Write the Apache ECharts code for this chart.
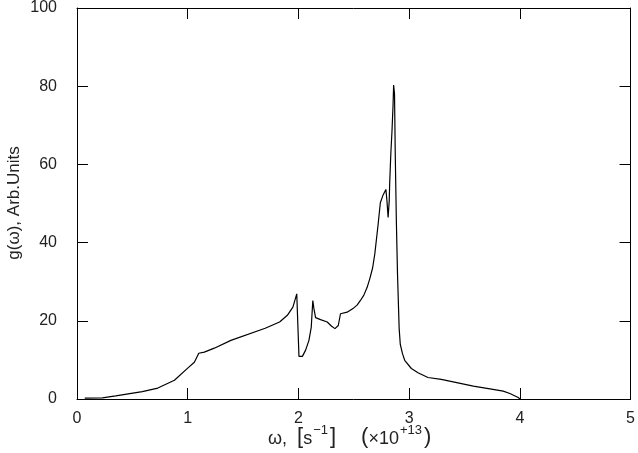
<!DOCTYPE html>
<html>
<head>
<meta charset="utf-8">
<script src="https://cdn.jsdelivr.net/npm/echarts@6/dist/echarts.min.js"></script>
<style>html,body{margin:0;padding:0;background:#fff}#c{width:638px;height:453px}</style>
</head>
<body>
<div id="c"></div>
<script>
const omega = [0.07,0.23,0.35,0.59,0.73,0.88,1.0,1.06,1.10,1.15,1.24,1.39,1.70,1.83,1.90,1.95,1.985,2.005,2.036,2.065,2.095,2.116,2.13,2.14,2.155,2.2,2.26,2.30,2.33,2.36,2.38,2.39,2.44,2.50,2.53,2.56,2.59,2.62,2.645,2.67,2.69,2.72,2.74,2.765,2.78,2.79,2.80,2.81,2.82,2.825,2.835,2.845,2.855,2.86,2.868,2.875,2.885,2.895,2.91,2.92,2.94,2.96,3.02,3.08,3.17,3.29,3.43,3.58,3.73,3.85,3.91,3.985,4.0];
const g = [0.2,0.3,0.8,1.9,2.8,4.8,7.9,9.4,11.7,12.0,13.0,15.0,18.1,19.7,21.4,23.5,26.9,10.9,10.9,12.5,15.0,18.4,25.2,23.1,20.8,20.3,19.7,18.6,18.0,18.8,21.8,22.2,22.2,23.3,24.0,25.2,26.5,28.5,30.8,33.5,37.1,44.7,50.2,52.2,52.5,53.6,50.6,46.4,50.6,55.7,63,68.4,75.3,80.3,78,62,45,32,18,14,11.6,9.9,7.8,6.7,5.5,5.0,4.2,3.3,2.6,2.0,1.4,0.4,0];
const xTicks = [0,1,2,3,4,5];
const yTicks = [0,20,40,60,80,100];

const chart = echarts.init(document.getElementById('c'));
const font = 'Liberation Sans, Arial, sans-serif';
const lbl = {color:'#222', fontFamily:font, fontSize:16};
const axLine = {show:true, onZero:false, lineStyle:{color:'#000', width:1}};
const tick = {show:true, inside:true, length:11, lineStyle:{color:'#000', width:1}};
chart.setOption({
  animation:false,
  grid:{left:77, right:3, top:6, bottom:54},
  xAxis:[
    {type:'value', min:xTicks[0], max:xTicks[xTicks.length-1], interval:1, position:'bottom',
     axisLine:axLine, axisTick:tick, splitLine:{show:false},
     axisLabel:Object.assign({margin:12}, lbl)},
    {type:'value', min:0, max:5, interval:1, position:'top',
     axisLine:axLine, axisTick:tick, splitLine:{show:false}, axisLabel:{show:false}}
  ],
  yAxis:[
    {type:'value', min:yTicks[0], max:yTicks[yTicks.length-1], interval:20, position:'left',
     axisLine:axLine, axisTick:tick, splitLine:{show:false},
     axisLabel:Object.assign({margin:20}, lbl)},
    {type:'value', min:0, max:100, interval:20, position:'right',
     axisLine:axLine, axisTick:tick, splitLine:{show:false}, axisLabel:{show:false}}
  ],
  graphic:[
    {type:'text', left:268, top:424, style:{
      text:'{a|ω,  }{b|[}{a|s}{s|−1}{b|]}{a|     }{b|(}{a|×10}{s|+13}{b|)}',
      rich:{a:{fontFamily:font, fontSize:18, fill:'#222', verticalAlign:'bottom', lineHeight:24},
            b:{fontFamily:font, fontSize:22, fill:'#222', verticalAlign:'bottom', lineHeight:24},
            s:{fontFamily:font, fontSize:13, fill:'#222', verticalAlign:'top', lineHeight:24, padding:[0,2,8,1]}}
    }},
    {type:'text', x:14, y:203, rotation:Math.PI/2, style:{
      text:'g(ω), Arb.Units', fontFamily:font, fontSize:17, fill:'#222',
      align:'center', verticalAlign:'middle'}}
  ],
  series:[{
    type:'line', showSymbol:false, symbol:'none',
    data: omega.map((w,i)=>[w,g[i]]),
    lineStyle:{color:'#000', width:1.2}
  }]
});
</script>
</body>
</html>
